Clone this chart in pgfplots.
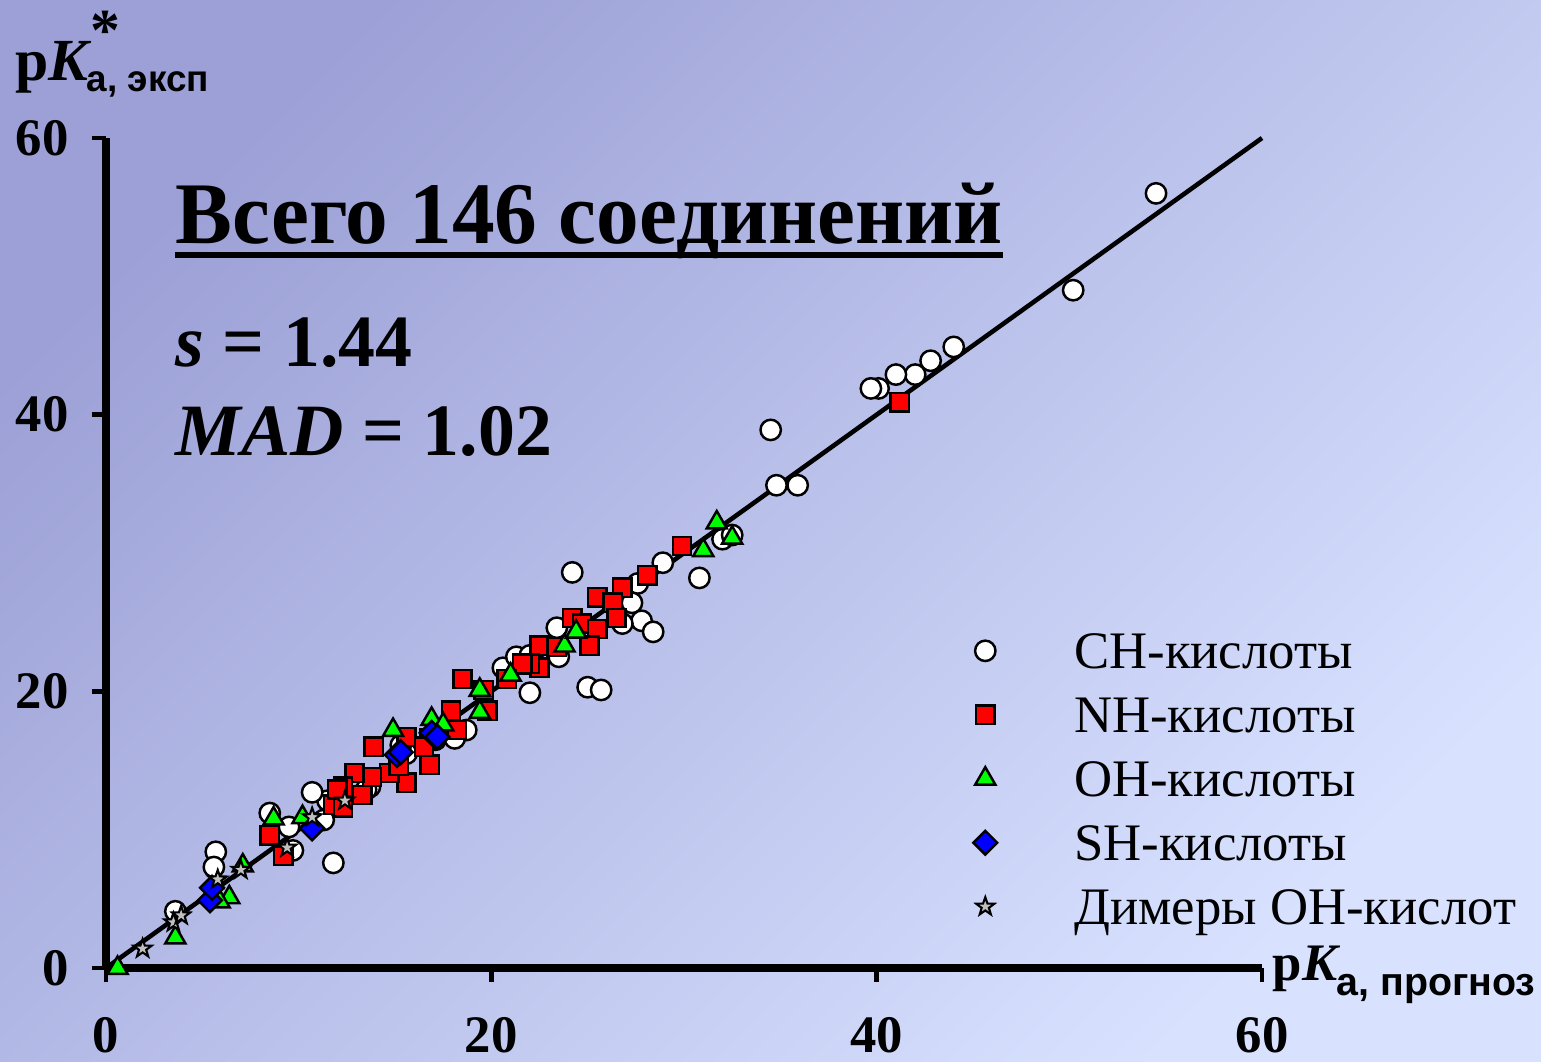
\documentclass[border=0pt]{standalone}
\usepackage{fontspec}
\setmainfont{Liberation Serif}
\newfontfamily\arialfont{Liberation Sans}
\usepackage{graphicx}
\usepackage{pgfplots}
\pgfplotsset{compat=1.18}
\usetikzlibrary{plotmarks}

\definecolor{bgA}{HTML}{9CA0D6}
\definecolor{bgB}{HTML}{D8E2FF}
\definecolor{ohgreen}{HTML}{00FF00}
\definecolor{stargray}{HTML}{C0C0C0}

\pgfdeclareplotmark{fstar}{%
  \pgfpathmoveto{\pgfqpoint{0pt}{\pgfplotmarksize}}%
  \pgfpathlineto{\pgfqpoint{-0.2351\pgfplotmarksize}{0.3236\pgfplotmarksize}}%
  \pgfpathlineto{\pgfqpoint{-0.9511\pgfplotmarksize}{0.3090\pgfplotmarksize}}%
  \pgfpathlineto{\pgfqpoint{-0.3804\pgfplotmarksize}{-0.1236\pgfplotmarksize}}%
  \pgfpathlineto{\pgfqpoint{-0.5878\pgfplotmarksize}{-0.8090\pgfplotmarksize}}%
  \pgfpathlineto{\pgfqpoint{0pt}{-0.4\pgfplotmarksize}}%
  \pgfpathlineto{\pgfqpoint{0.5878\pgfplotmarksize}{-0.8090\pgfplotmarksize}}%
  \pgfpathlineto{\pgfqpoint{0.3804\pgfplotmarksize}{-0.1236\pgfplotmarksize}}%
  \pgfpathlineto{\pgfqpoint{0.9511\pgfplotmarksize}{0.3090\pgfplotmarksize}}%
  \pgfpathlineto{\pgfqpoint{0.2351\pgfplotmarksize}{0.3236\pgfplotmarksize}}%
  \pgfpathclose
  \pgfusepathqfillstroke
}

\pgfplotstableread{
x y
54.5 56.0
50.2 49.0
44.0 44.9
42.8 43.9
42.0 42.9
41.0 42.9
40.1 41.9
39.7 41.9
34.5 38.9
34.8 34.9
35.9 34.9
32.0 31.0
32.5 31.3
30.8 28.2
28.9 29.3
27.6 27.8
27.3 26.4
27.8 25.1
28.4 24.3
26.8 24.9
24.2 28.6
25.0 20.3
25.7 20.1
22.0 19.9
23.4 24.6
23.5 22.5
20.6 21.7
21.3 22.5
22.0 22.6
18.7 17.2
18.1 16.6
17.1 16.5
15.6 15.5
15.3 16.1
13.7 13.1
13.5 12.9
11.5 12.1
10.7 12.7
11.3 10.7
8.5 11.2
9.5 10.2
9.7 8.5
11.8 7.6
5.7 8.4
5.6 7.3
3.6 4.1
}\CHdata

\pgfplotstableread{
x y
41.2 40.9
29.9 30.5
28.1 28.4
26.8 27.5
25.5 26.8
26.3 26.4
26.5 25.3
24.2 25.3
24.7 24.9
25.5 24.5
25.1 23.3
22.5 23.3
23.4 23.2
21.7 21.9
22.5 21.7
22.0 22.0
21.6 22.0
20.8 20.9
19.6 20.1
19.8 18.6
18.5 20.9
17.9 18.6
18.2 17.2
16.8 16.6
16.8 14.7
15.6 16.7
15.6 13.4
14.7 14.1
13.9 16.0
13.8 13.8
12.9 14.1
13.3 12.5
12.3 13.1
11.8 11.8
12.3 11.6
12.0 12.9
8.5 9.6
9.2 8.1
15.2 14.6
16.5 16.0
}\NHdata

\pgfplotstableread{
x y
0.6 0.0
3.6 2.2
6.4 5.1
5.9 4.8
7.1 7.4
8.7 10.8
10.2 10.9
14.9 17.2
16.9 18.0
19.4 20.1
19.4 18.5
23.8 23.3
24.4 24.3
31.7 32.2
31.0 30.2
32.5 31.1
17.5 17.6
21.0 21.2
}\OHdata

\pgfplotstableread{
x y
5.4 4.9
5.5 5.8
10.7 10.1
15.1 15.4
15.3 15.6
16.9 17.0
17.2 16.7
}\SHdata

\pgfplotstableread{
x y
1.9 1.4
3.5 3.3
3.9 3.8
5.8 6.4
7.0 7.1
9.4 8.7
10.7 10.9
12.4 12.1
}\DIMdata

\begin{document}
\begin{tikzpicture}
\shade[top color=bgA, bottom color=bgB, shading angle=45] (-1.06,-0.93) rectangle (14.35,9.68);
\path[use as bounding box] (-1.06,-0.93) rectangle (14.35,9.68);
\begin{axis}[
  at={(0,0)}, anchor=south west,
  scale only axis, width=11.56cm, height=8.30cm,
  xmin=0, xmax=60, ymin=0, ymax=60,
  axis x line=bottom, axis y line=left,
  axis line style={-, line width=2.3pt, black},
  every outer x axis line/.append style={-},
  every outer y axis line/.append style={-},
  xtick={0,20,40,60}, ytick={0,20,40,60},
  tick align=outside, major tick length=4pt,
  tick style={black, line width=1.3pt},
  /pgf/number format/assume math mode=true,
  ticklabel style={font=\fontsize{15}{15}\selectfont\bfseries, inner sep=0pt},
  xticklabel style={anchor=north, yshift=-10pt},
  yticklabel style={anchor=east, xshift=-6.5pt},
  clip=false,
  legend style={draw=none, fill=none, at={(axis cs:44.6,24.2)}, anchor=north west,
    inner sep=0pt, outer sep=0pt, row sep=8.2pt,
    nodes={inner sep=0pt, text height=10pt, text depth=0pt},
    font=\fontsize{15}{15}\selectfont},
  legend cell align=left,
  legend image code/.code={\path[draw=none, fill=none] (-0.2cm,0) -- (0.89cm,0); \draw[#1] plot coordinates {(0cm,0cm)};},
]
\addplot[only marks, mark=*, mark size=2.9pt, mark options={fill=white, draw=black, line width=0.7pt}] table {\CHdata};
\addlegendentry{CH-кислоты}
\addplot[only marks, mark=square*, mark size=2.6pt, mark options={fill=red, draw=black, line width=0.7pt}] table {\NHdata};
\addlegendentry{NH-кислоты}
\addplot[only marks, mark=triangle*, mark size=3.3pt, mark options={fill=ohgreen, draw=black, line width=0.7pt}] table {\OHdata};
\addlegendentry{OH-кислоты}
\addplot[only marks, mark=square*, mark size=2.4pt, mark options={rotate=45, fill=blue, draw=black, line width=0.7pt}] table {\SHdata};
\addlegendentry{SH-кислоты}
\addplot[black, line width=1.3pt, forget plot] coordinates {(0,0) (60,60)};
\addplot[only marks, mark=fstar, mark size=2.7pt, mark options={fill=stargray, draw=black, line width=0.6pt}] table {\DIMdata};
\addlegendentry{Димеры OH-кислот}
\end{axis}
% y label
\node[anchor=base west, inner sep=0pt] at (-0.91,8.88) {\fontsize{17}{17}\selectfont\bfseries p\textit{K}\kern-0.5pt\rlap{\raisebox{8.5pt}{*}}\kern-1pt\raisebox{-3.4pt}{\arialfont\fontsize{10.5}{10.5}\selectfont\bfseries а, эксп}};
% x label
\node[anchor=base west, inner sep=0pt] at (11.66,-0.12) {\fontsize{15}{15}\selectfont\bfseries p\textit{K}\kern-1pt\raisebox{-4.3pt}{\arialfont\fontsize{11.2}{11.2}\selectfont\bfseries а, прогноз}};
% title and statistics
\node[anchor=base west, inner sep=0pt] (T) at (0.69,7.25) {\scalebox{0.97}[1]{\fontsize{25}{25}\selectfont\bfseries Всего 146 соединений}};
\fill[black] (0.69,7.10) rectangle (8.97,7.16);
\node[anchor=base west, inner sep=0pt] at (0.69,6.02) {\fontsize{21}{21}\selectfont\bfseries\textit{s} = 1.44};
\node[anchor=base west, inner sep=0pt] at (0.69,5.13) {\fontsize{21}{21}\selectfont\bfseries\textit{MAD} = 1.02};
\end{tikzpicture}
\end{document}
